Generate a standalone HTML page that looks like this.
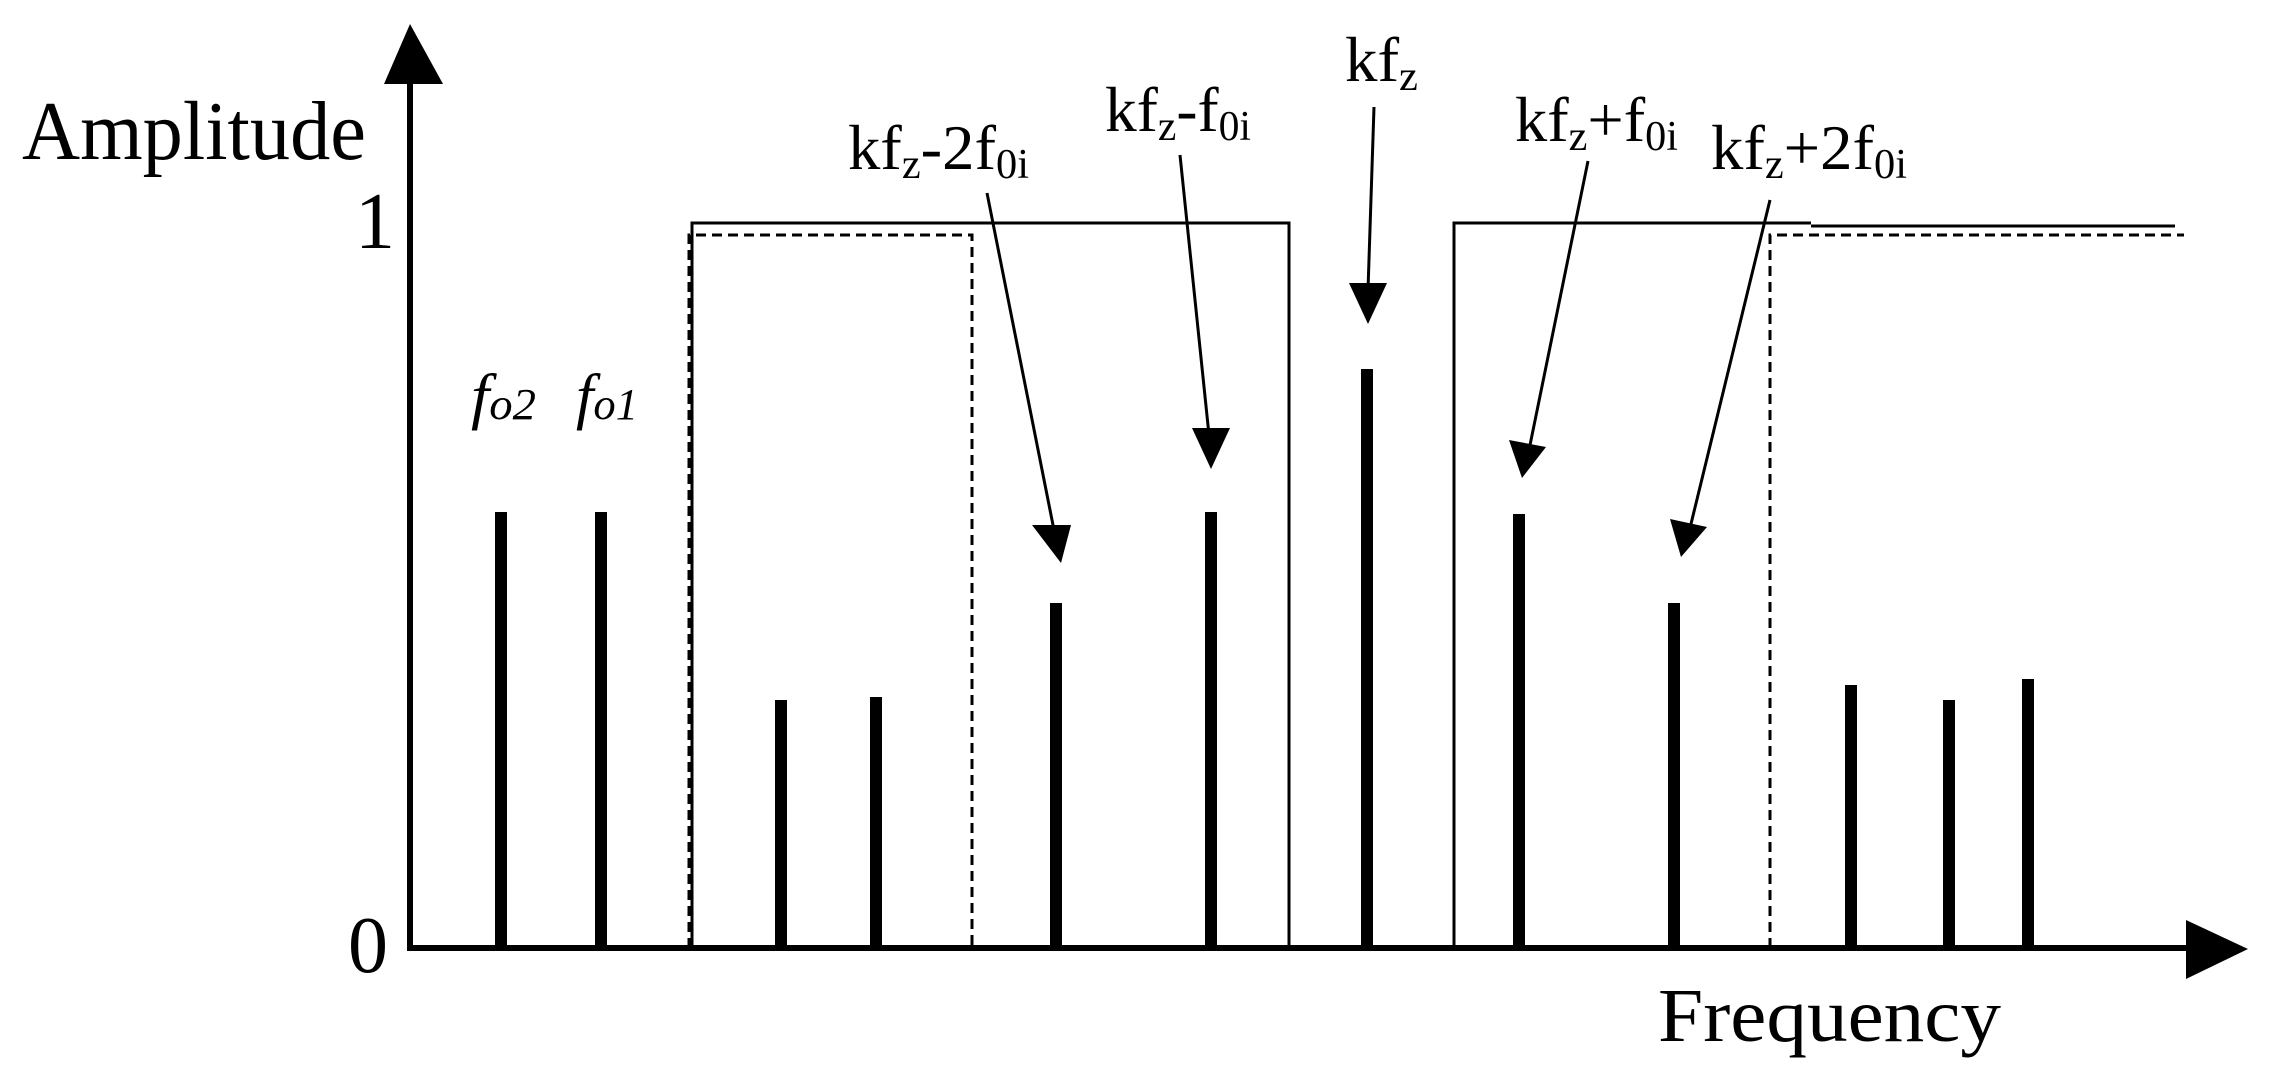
<!DOCTYPE html>
<html><head><meta charset="utf-8"><style>
html,body{margin:0;padding:0;background:#fff;}
svg{display:block;}
text{font-family:"Liberation Serif",serif;fill:#000;}
</style></head><body>
<svg width="2271" height="1083" viewBox="0 0 2271 1083" xmlns="http://www.w3.org/2000/svg">
<!-- axes -->
<line x1="410" y1="80" x2="410" y2="951" stroke="#000" stroke-width="6"/>
<polygon points="410,24 384,84 443,84" fill="#000"/>
<line x1="407" y1="948" x2="2190" y2="948" stroke="#000" stroke-width="6"/>
<polygon points="2248,949 2186,920 2186,979" fill="#000"/>

<!-- solid filter boxes -->
<polyline points="692,948 692,223 1289,223 1289,948" fill="none" stroke="#000" stroke-width="3"/>
<polyline points="1454,948 1454,223 1811,223" fill="none" stroke="#000" stroke-width="3"/>
<line x1="1811" y1="226" x2="2175" y2="226" stroke="#000" stroke-width="3"/>
<!-- dashed -->
<polyline points="689,948 689,235 972,235 972,948" fill="none" stroke="#000" stroke-width="3" stroke-dasharray="10,6"/>
<polyline points="1770,948 1770,235 2184,235" fill="none" stroke="#000" stroke-width="3" stroke-dasharray="10,6"/>

<!-- bars -->
<g fill="#000">
<rect x="495" y="512" width="12" height="436"/>
<rect x="595" y="512" width="12" height="436"/>
<rect x="775" y="700" width="12" height="248"/>
<rect x="870" y="697" width="12" height="251"/>
<rect x="1050" y="603" width="12" height="345"/>
<rect x="1205" y="512" width="12" height="436"/>
<rect x="1361" y="369" width="12" height="579"/>
<rect x="1513" y="514" width="12" height="434"/>
<rect x="1668" y="603" width="12" height="345"/>
<rect x="1845" y="685" width="12" height="263"/>
<rect x="1943" y="700" width="12" height="248"/>
<rect x="2022" y="679" width="12" height="269"/>
</g>

<!-- arrows -->
<g stroke="#000" stroke-width="3" fill="none">
<line x1="987" y1="193" x2="1054" y2="530"/>
<line x1="1180" y1="155" x2="1209" y2="435"/>
<line x1="1374" y1="107" x2="1368" y2="290"/>
<line x1="1588" y1="161" x2="1529" y2="450"/>
<line x1="1770" y1="200" x2="1690" y2="528"/>
</g>
<g fill="#000">
<polygon points="1032,525 1071,525 1061,563"/>
<polygon points="1192,428 1230,428 1211,469"/>
<polygon points="1349,283 1387,283 1368,324"/>
<polygon points="1509,440 1546,447 1522,478"/>
<polygon points="1670,519 1707,527 1681,557"/>
</g>

<!-- labels -->
<text x="22" y="159" font-size="84" textLength="344" lengthAdjust="spacingAndGlyphs">Amplitude</text>
<text x="355" y="248" font-size="80">1</text>
<text x="348" y="972" font-size="80">0</text>
<text x="1658" y="1041" font-size="76" textLength="343" lengthAdjust="spacingAndGlyphs">Frequency</text>

<text x="471" y="417" font-size="62" font-style="italic" textLength="65" lengthAdjust="spacingAndGlyphs">f<tspan font-size="44" dy="2">o2</tspan></text>
<text x="576" y="417" font-size="62" font-style="italic" textLength="62" lengthAdjust="spacingAndGlyphs">f<tspan font-size="44" dy="2">o1</tspan></text>

<text x="848" y="169" font-size="64" textLength="181" lengthAdjust="spacingAndGlyphs">kf<tspan font-size="42" dy="9">z</tspan><tspan dy="-9">-2f</tspan><tspan font-size="42" dy="9">0i</tspan></text>
<text x="1105" y="131" font-size="64" textLength="146" lengthAdjust="spacingAndGlyphs">kf<tspan font-size="42" dy="9">z</tspan><tspan dy="-9">-f</tspan><tspan font-size="42" dy="9">0i</tspan></text>
<text x="1345" y="81" font-size="64" textLength="73" lengthAdjust="spacingAndGlyphs">kf<tspan font-size="42" dy="9">z</tspan></text>
<text x="1515" y="141" font-size="64" textLength="163" lengthAdjust="spacingAndGlyphs">kf<tspan font-size="42" dy="9">z</tspan><tspan dy="-9">+f</tspan><tspan font-size="42" dy="9">0i</tspan></text>
<text x="1711" y="169" font-size="64" textLength="196" lengthAdjust="spacingAndGlyphs">kf<tspan font-size="42" dy="9">z</tspan><tspan dy="-9">+2f</tspan><tspan font-size="42" dy="9">0i</tspan></text>
</svg>
</body></html>
